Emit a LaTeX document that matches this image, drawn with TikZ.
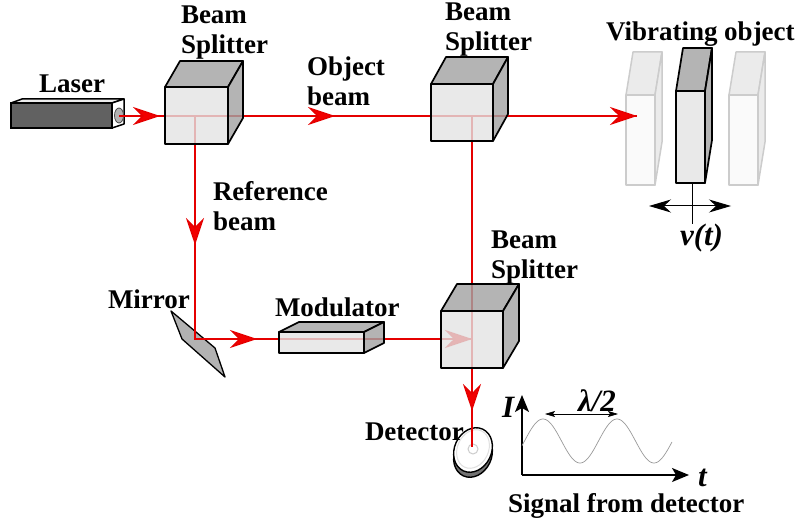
\documentclass[tikz,border=0pt]{standalone}
\usepackage{fontspec}
\setmainfont{Liberation Serif}
\usetikzlibrary{arrows.meta}
\tikzset{
  lbl/.style={anchor=base west,inner sep=0pt,outer sep=0pt,font=\fontsize{27}{30}\selectfont\bfseries},
  lbli/.style={lbl,font=\fontsize{31}{34}\selectfont\bfseries\itshape},
  beam/.style={draw=red!90!black,line width=1.4pt},
  rtip/.style={-{Stealth[length=27pt,width=18pt,inset=9pt,fill=red!95!black]}},
  darkface/.style={draw=black,line width=1.7pt,line join=round,fill=black!36,fill opacity=.82},
  paleface/.style={draw=black,line width=1.7pt,line join=round,fill=black!11,fill opacity=.8},
  ghostdark/.style={draw=black!20,line width=1.5pt,line join=round,fill=black!8},
  ghostpale/.style={draw=black!20,line width=1.5pt,line join=round,fill=black!2},
  axis/.style={draw=black,line width=1.3pt},
  bigtip/.style={-{Stealth[length=17pt,width=14pt,inset=4pt]}},
  thintip/.style={{Stealth[length=22pt,width=13pt,inset=7pt]}-{Stealth[length=22pt,width=13pt,inset=7pt]}},
}
% x, y (front top-left), width, height, dx, dy
\newcommand{\boxshape}[6]{%
  \draw[darkface] (#1,#2) -- ++(#5,-#6) -- ++(#3,0) -- ++(-#5,#6) -- cycle;
  \draw[darkface] (#1+#3,#2) -- ++(#5,-#6) -- ++(0,#4) -- ++(-#5,#6) -- cycle;
  \draw[paleface] (#1,#2) rectangle ++(#3,#4);
}
\newcommand{\ghostshape}[6]{%
  \draw[ghostdark] (#1,#2) -- ++(#5,-#6) -- ++(#3,0) -- ++(-#5,#6) -- cycle;
  \draw[ghostdark] (#1+#3,#2) -- ++(#5,-#6) -- ++(0,#4) -- ++(-#5,#6) -- cycle;
  \draw[ghostpale] (#1,#2) rectangle ++(#3,#4);
}
\begin{document}
\begin{tikzpicture}[x=1pt,y=-1pt]
\useasboundingbox (0,0) rectangle (797,521);
% beam points
\coordinate (lasero) at (119,116);
\coordinate (tipA) at (160,116);
\coordinate (split1) at (195,116);
\coordinate (tipB) at (335,116);
\coordinate (split2) at (472,116);
\coordinate (tipC) at (637,116);
\coordinate (tipD) at (195,245);
\coordinate (mirr) at (195,339);
\coordinate (tipE) at (257,339);
\coordinate (tipF) at (472,339);
\coordinate (tipG) at (472,411);
\coordinate (det) at (472,447);
\coordinate (stemtop) at (692.5,183);
\coordinate (stembot) at (692.5,224);
\coordinate (vibL) at (649,206);
\coordinate (vibR) at (731,206);
\coordinate (org) at (522,475);
\coordinate (ytop) at (522,395);
\coordinate (xend) at (689,475);
\coordinate (lamL) at (545,414);
\coordinate (lamR) at (618,414);
% laser
\draw[line width=1.5pt,line join=round,fill=black!8] (11,103) -- (22,99) -- (124,99) -- (112,103) -- cycle;
\draw[line width=1.5pt,line join=round,fill=white] (112,103) -- (124,99) -- (124,124) -- (112,128) -- cycle;
\draw[line width=2.2pt,fill=black!62] (11,103) rectangle (112,128);
\draw[black!70,line width=.8pt,fill=black!30] (119,115.5) ellipse [x radius=4.5,y radius=7.5];
% ghosts of the object
\ghostshape{626}{95}{29}{90}{7}{43}
\ghostshape{729}{95}{29}{90}{7}{43}
% mirror
\draw[line width=1.3pt,line join=round,fill=black!30] (171,311) -- (215,348) -- (225,377) -- (182,339) -- cycle;
% detector
\draw[line width=1.4pt,fill=black!55,rotate around={-25:(473,455)}] (473,455) ellipse [x radius=18.5,y radius=23];
\draw[line width=1.4pt,fill=white,rotate around={-25:(473,450)}] (473,450) ellipse [x radius=18.5,y radius=23];
\draw[black!12,line width=1pt,rotate around={-25:(473,449)}] (473,449) ellipse [x radius=15.5,y radius=20];
\draw[black!20,line width=1pt] (473,449) circle (5);
% beams
\draw[beam] (lasero) -- (tipC);
\draw[beam] (split1) -- (mirr) -- (split2 |- mirr);
\draw[beam] (split2) -- (det);
\draw[beam,rtip] (lasero) -- (tipA);
\draw[beam,rtip] (split1) -- (tipB);
\draw[beam,rtip] (split2) -- (tipC);
\draw[beam,rtip] (split1) -- (tipD);
\draw[beam,rtip] (mirr) -- (tipE);
\draw[beam,rtip] (tipE) -- (tipF);
\draw[beam,rtip] (split2) -- (tipG);
% boxes
\boxshape{165}{87}{63}{57}{15}{26}
\boxshape{431}{84}{62}{57}{15}{27}
\boxshape{441}{311}{62}{57}{16}{27}
\boxshape{279}{332}{85}{21}{20}{10}
\boxshape{676}{91}{29}{92}{7}{43}
% stem and double arrow
\draw[line width=1.3pt] (stemtop) -- (stembot);
\draw[line width=1pt,thintip] (vibL) -- (vibR);
% graph
\draw[axis,bigtip] (org) -- (ytop);
\draw[axis,bigtip] (org) -- (xend);
\draw[black!40,line width=.7pt,domain=522:672,samples=120,smooth] plot (\x,{441-22*cos(4.865*(\x-543))});
\draw[line width=.7pt,{Stealth[length=10pt,width=6pt,inset=2pt]}-{Stealth[length=10pt,width=6pt,inset=2pt]}] (lamL) -- (lamR);
% labels
\node[lbl] (lasert) at (39,93) {Laser};
\node[lbl] (bs1a) at (181,24) {Beam};
\node[lbl] (bs1b) at (181,54) {Splitter};
\node[lbl] (bs2a) at (445,21) {Beam};
\node[lbl] (bs2b) at (445,51) {Splitter};
\node[lbl] (bs3a) at (491,248) {Beam};
\node[lbl] (bs3b) at (491,278) {Splitter};
\node[lbl] (obja) at (307,76) {Object};
\node[lbl] (objb) at (307,106) {beam};
\node[lbl] (refa) at (213,201) {Reference};
\node[lbl] (refb) at (213,231) {beam};
\node[lbl] (vibt) at (606,41) {Vibrating object};
\node[lbl] (mirt) at (108,308) {Mirror};
\node[lbl] (modt) at (275,316) {Modulator};
\node[lbl] (dett) at (365,440) {Detector};
\node[lbl] (sigt) at (508,512) {Signal from detector};
\node[lbli] (vt) at (680,246) {ν(t)};
\node[lbli] (lamt) at (578,411) {λ/2};
\node[lbli] (It) at (502,417) {I};
\node[lbli] (tt) at (698,486) {t};
\end{tikzpicture}
\end{document}
